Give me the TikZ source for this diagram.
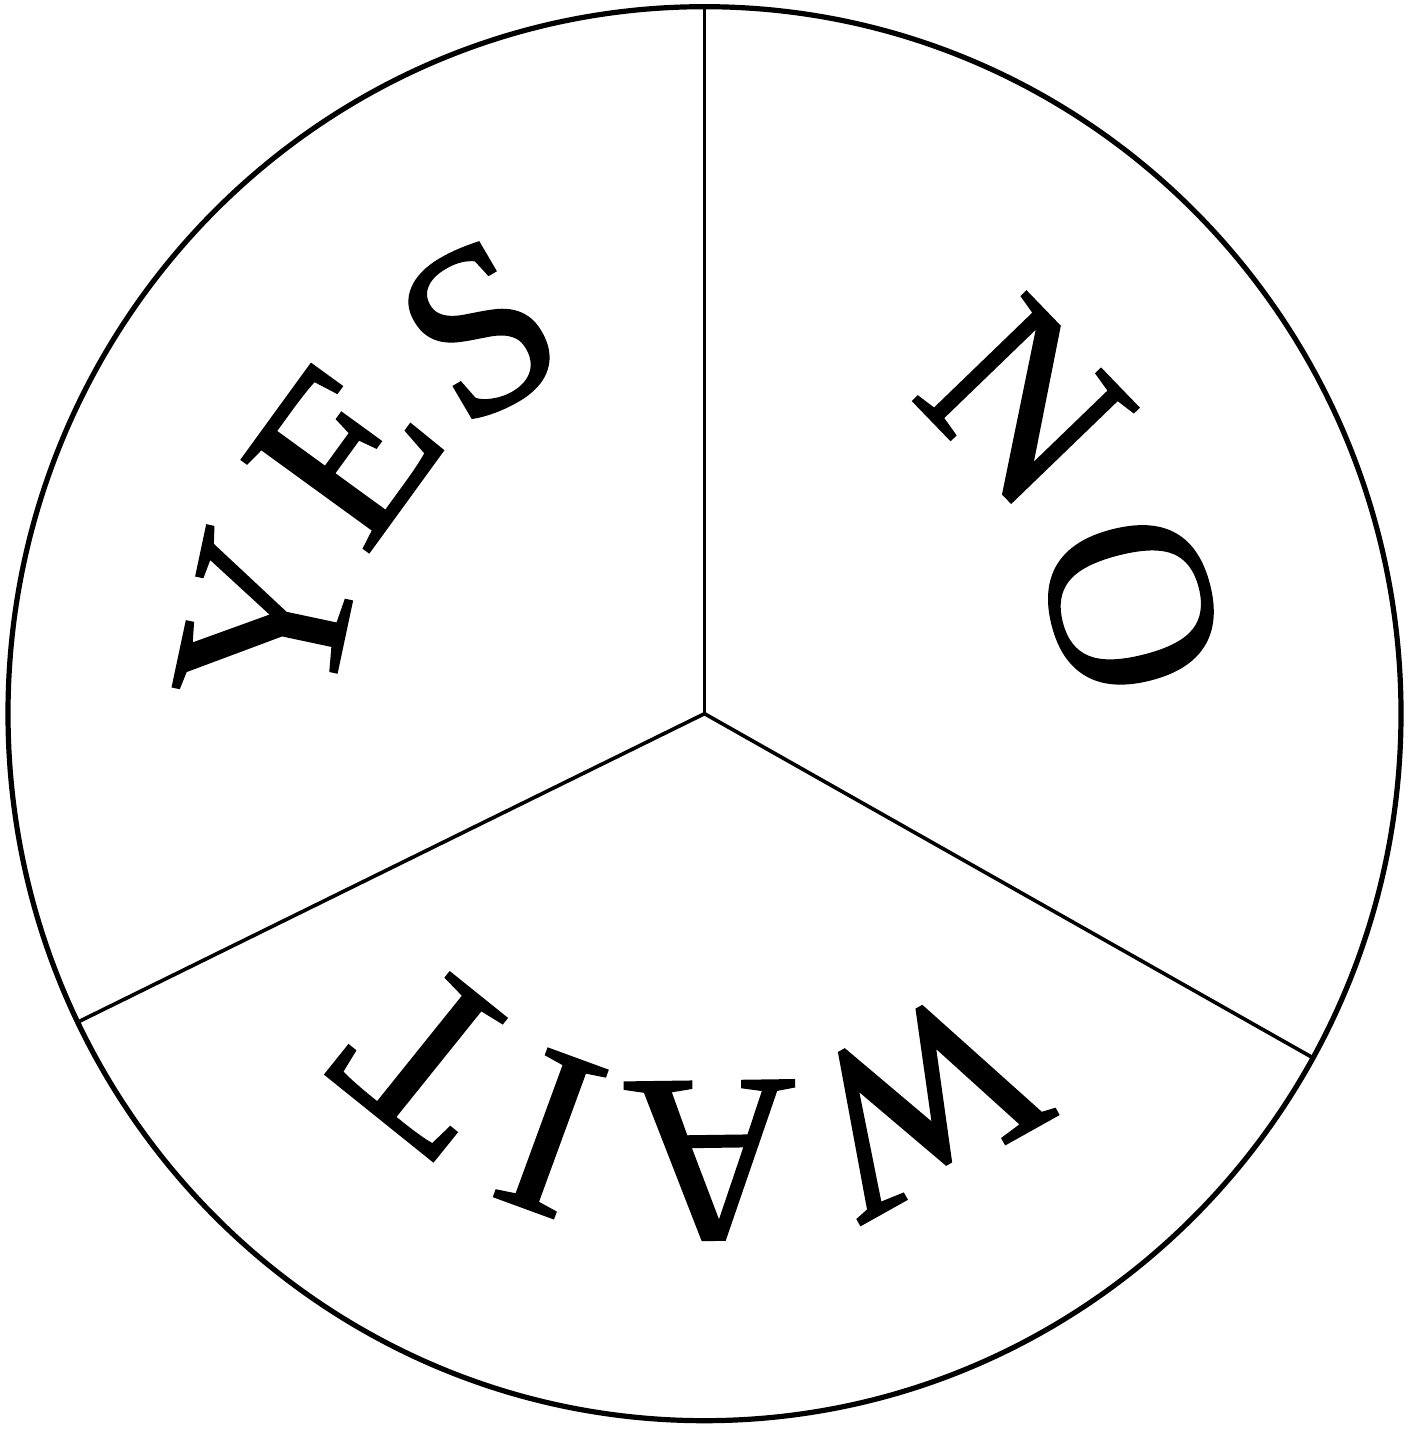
\documentclass[tikz,border=0pt]{standalone}
\usepackage{fontspec}
\setmainfont{Liberation Serif}
\newfontfamily\heavyserif[FakeBold=1]{Liberation Serif}
\begin{document}
\begin{tikzpicture}[x=1bp,y=1bp,
  rim/.style={line width=5.2bp},
  spoke/.style={line width=3.6bp},
  letter/.style={inner sep=0pt, outer sep=0pt, anchor=center,
    font=\heavyserif\fontsize{240bp}{240bp}\selectfont}]
\useasboundingbox (0,0) rectangle (1419,1429);
\coordinate (c) at (704.5,715.3);
\coordinate (top) at (704.5,1422.3);
\coordinate (lr) at (1312.9,371.2);
\coordinate (ll) at (77.8,406.9);
\draw[rim] (c) ellipse [x radius=696.5, y radius=707];
\draw[spoke] (c) -- (top);
\draw[spoke] (c) -- (lr);
\draw[spoke] (c) -- (ll);
% YES
\node[letter, rotate=78]   (y1) at ([shift={(168:447)}]c) {Y};
\node[letter, rotate=54]   (y2) at ([shift={(144:445)}]c) {E};
\node[letter, rotate=30.4] (y3) at ([shift={(120.4:445)}]c) {S};
% NO
\node[letter, rotate=-46]   (n1) at ([shift={(44:446)}]c) {N};
\node[letter, rotate=-75.7] (n2) at ([shift={(14.3:440)}]c) {O};
% WAIT
\node[letter, rotate=-150.8] (w1) at ([shift={(-60.8:442)}]c) {W};
\node[letter, rotate=-179.2] (w2) at ([shift={(-89.2:447)}]c) {A};
\node[letter, rotate=-200.1] (w3) at ([shift={(-110.1:447)}]c) {I};
\node[letter, rotate=-218.8] (w4) at ([shift={(-128.8:440)}]c) {T};
\end{tikzpicture}
\end{document}
